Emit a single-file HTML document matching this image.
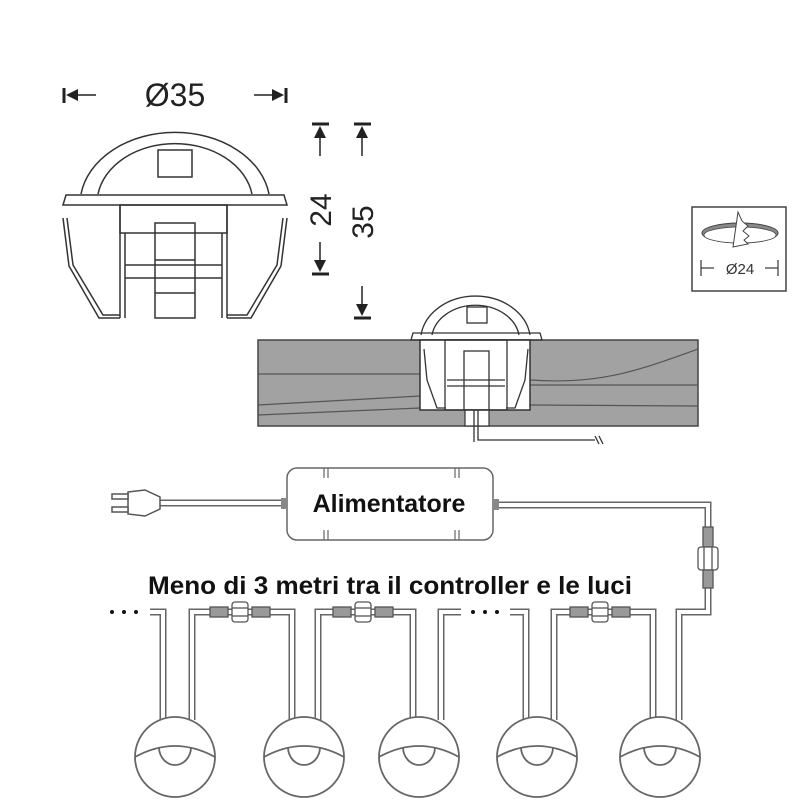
<!DOCTYPE html>
<html><head><meta charset="utf-8"><style>
html,body{margin:0;padding:0;background:#fff;}
svg{display:block;}
text{font-family:"Liberation Sans",sans-serif;}
</style></head><body>
<svg width="800" height="800" viewBox="0 0 800 800" xmlns="http://www.w3.org/2000/svg">
<!-- Top-left dims -->
<g stroke="#222" fill="#222">
<line x1="64" y1="88" x2="64" y2="103" stroke-width="3"/>
<polygon points="66,95 78,89 78,101" stroke="none"/>
<line x1="78" y1="95" x2="96" y2="95" stroke-width="1.5"/>
<line x1="286" y1="88" x2="286" y2="103" stroke-width="3"/>
<polygon points="284,95 272,89 272,101" stroke="none"/>
<line x1="254" y1="95" x2="272" y2="95" stroke-width="1.5"/>
</g>
<text x="175" y="106" font-size="32" text-anchor="middle" fill="#222">Ø35</text>
<!-- vertical dims -->
<g stroke="#222" fill="#222">
<line x1="312" y1="124" x2="329" y2="124" stroke-width="3"/>
<polygon points="320,126 314,138 326,138" stroke="none"/>
<line x1="320" y1="138" x2="320" y2="156" stroke-width="1.5"/>
<line x1="312" y1="274" x2="329" y2="274" stroke-width="3"/>
<polygon points="320,272 314,260 326,260" stroke="none"/>
<line x1="320" y1="242" x2="320" y2="260" stroke-width="1.5"/>
<line x1="354" y1="124" x2="371" y2="124" stroke-width="3"/>
<polygon points="362,126 356,138 368,138" stroke="none"/>
<line x1="362" y1="138" x2="362" y2="156" stroke-width="1.5"/>
<line x1="354" y1="318" x2="371" y2="318" stroke-width="3"/>
<polygon points="362,316 356,304 368,304" stroke="none"/>
<line x1="362" y1="286" x2="362" y2="304" stroke-width="1.5"/>
</g>
<text transform="translate(331,210) rotate(-90)" font-size="30" text-anchor="middle" fill="#222">24</text>
<text transform="translate(373,222) rotate(-90)" font-size="30" text-anchor="middle" fill="#222">35</text>
<!-- big lamp side view -->
<g fill="none" stroke="#333" stroke-width="1.5">
<path d="M81,194 A95,72 0 0 1 269,194"/>
<path d="M98,194 A78,60 0 0 1 252,194"/>
<rect x="158" y="150" width="34" height="27"/>
<path d="M66,195 L284,195 L287,205 L63,205 Z"/>
<rect x="120" y="205" width="107" height="28"/>
<line x1="120" y1="205" x2="120" y2="318"/><line x1="227" y1="205" x2="227" y2="318"/>
<line x1="125" y1="233" x2="125" y2="318"/><line x1="222" y1="233" x2="222" y2="318"/>
<rect x="155" y="223" width="40" height="95"/>
<line x1="155" y1="260" x2="195" y2="260"/><line x1="155" y1="293" x2="195" y2="293"/>
<line x1="125" y1="265" x2="222" y2="265"/><line x1="125" y1="278" x2="222" y2="278"/>
<path d="M63,218 L69,266 L99,318 L120,318"/>
<path d="M67,218 L73,265 L103,315 L120,315"/>
<path d="M287,218 L281,266 L251,318 L227,318"/>
<path d="M283,218 L277,265 L247,315 L227,315"/>
</g>
<!-- wood -->
<rect x="258" y="340" width="440" height="86" fill="#a2a2a2" stroke="#444" stroke-width="1.5"/>
<g fill="none" stroke="#555" stroke-width="1.2">
<path d="M258,374 L420,374"/><path d="M258,405 L420,396"/><path d="M258,415 L420,408"/>
<path d="M530,380 C600,385 640,370 698,349"/><path d="M530,385 L698,385"/><path d="M530,405 L698,406"/>
</g>
<rect x="420" y="340" width="110" height="70" fill="#fff" stroke="#333" stroke-width="1.5"/>
<rect x="465" y="410" width="24" height="16" fill="#fff" stroke="#333" stroke-width="1.2"/>
<g fill="none" stroke="#333" stroke-width="1.3">
<path d="M421,335 A55,45 0 0 1 530,335"/>
<path d="M432,335 A44,35 0 0 1 519,335"/>
<rect x="467" y="307" width="20" height="16"/>
<path d="M413,333 L540,333 L542,340 L411,340 Z"/>
<rect x="445" y="340" width="62" height="70"/>
<rect x="464" y="351" width="25" height="59"/>
<line x1="447" y1="380" x2="505" y2="380"/><line x1="447" y1="386" x2="505" y2="386"/>
<path d="M424,349 L427,380 L437,408 L446,408"/><path d="M528,349 L525,380 L515,408 L506,408"/>
<path d="M474,410 L474,442"/><path d="M478,410 L478,440 L595,440"/>
<path d="M595,436 L599,444 M599,436 L603,444"/>
</g>
<!-- small box -->
<rect x="692" y="207" width="94" height="84" fill="#fff" stroke="#444" stroke-width="1.5"/>
<ellipse cx="740" cy="233" rx="38" ry="10" fill="#888" stroke="#444"/>
<ellipse cx="740" cy="235" rx="36" ry="8" fill="#fff" stroke="#444" stroke-width="0.8"/>
<path d="M738,212 L733,247 L748,244 L744,240 L749,236 L743,231 L748,226 L742,221 Z" fill="#fff" stroke="#444"/>
<g stroke="#444" stroke-width="1.3"><line x1="701" y1="260" x2="701" y2="276"/><line x1="701" y1="268" x2="714" y2="268"/>
<line x1="778" y1="260" x2="778" y2="276"/><line x1="765" y1="268" x2="778" y2="268"/></g>
<text x="740" y="274" font-size="15" text-anchor="middle" fill="#333">Ø24</text>
<!-- cables (double lines) -->
<g fill="none" stroke-linejoin="miter">
<g stroke="#666" stroke-width="7">
<path d="M160,503 L287,503"/>
<path d="M493,505 L708,505 L708,612 L679,612 L679,720"/>
<path d="M150,612 L163,612 L163,720"/>
<path d="M192,720 L192,612 L292,612 L292,720"/>
<path d="M318,720 L318,612 L413,612 L413,720"/>
<path d="M441,720 L441,612 L461,612"/>
<path d="M510,612 L526,612 L526,720"/>
<path d="M554,720 L554,612 L653,612 L653,720"/>
</g>
<g stroke="#fff" stroke-width="4">
<path d="M160,503 L287,503"/>
<path d="M493,505 L708,505 L708,612 L679,612 L679,720"/>
<path d="M150,612 L163,612 L163,720"/>
<path d="M192,720 L192,612 L292,612 L292,720"/>
<path d="M318,720 L318,612 L413,612 L413,720"/>
<path d="M441,720 L441,612 L461,612"/>
<path d="M510,612 L526,612 L526,720"/>
<path d="M554,720 L554,612 L653,612 L653,720"/>
</g>
</g>
<!-- plug -->
<g fill="#fff" stroke="#555" stroke-width="1.5">
<path d="M128,492 L145,490 L160,497 L160,509 L145,516 L128,514 Z"/>
<rect x="112" y="494" width="16" height="5"/><rect x="112" y="507" width="16" height="5"/>
</g>
<!-- power supply -->
<rect x="287" y="468" width="206" height="72" rx="10" fill="#fff" stroke="#666" stroke-width="1.5"/>
<g stroke="#666" stroke-width="1.2"><line x1="324" y1="468" x2="324" y2="478"/><line x1="328" y1="468" x2="328" y2="478"/>
<line x1="455" y1="468" x2="455" y2="478"/><line x1="459" y1="468" x2="459" y2="478"/>
<line x1="324" y1="530" x2="324" y2="540"/><line x1="328" y1="530" x2="328" y2="540"/>
<line x1="455" y1="530" x2="455" y2="540"/><line x1="459" y1="530" x2="459" y2="540"/></g>
<rect x="281" y="498" width="6" height="11" fill="#888"/><rect x="493" y="499" width="6" height="11" fill="#888"/>
<text x="389" y="512" font-size="25" font-weight="bold" text-anchor="middle" fill="#111">Alimentatore</text>
<!-- vertical connector -->
<g fill="#fff" stroke="#555" stroke-width="1.3">
<rect x="703" y="527" width="10" height="20" fill="#999"/>
<rect x="698" y="547" width="20" height="23" rx="3"/>
<line x1="704" y1="547" x2="704" y2="570"/><line x1="712" y1="547" x2="712" y2="570"/>
<rect x="703" y="570" width="10" height="18" fill="#999"/>
</g>
<!-- horizontal connectors -->
<g fill="#fff" stroke="#555" stroke-width="1.3">
<g transform="translate(240,612)">
<rect x="-30" y="-5" width="18" height="10" fill="#999"/><rect x="-8" y="-10" width="16" height="20" rx="3"/>
<line x1="-8" y1="-4" x2="8" y2="-4"/><line x1="-8" y1="4" x2="8" y2="4"/>
<rect x="12" y="-5" width="18" height="10" fill="#999"/></g>
<g transform="translate(363,612)">
<rect x="-30" y="-5" width="18" height="10" fill="#999"/><rect x="-8" y="-10" width="16" height="20" rx="3"/>
<line x1="-8" y1="-4" x2="8" y2="-4"/><line x1="-8" y1="4" x2="8" y2="4"/>
<rect x="12" y="-5" width="18" height="10" fill="#999"/></g>
<g transform="translate(600,612)">
<rect x="-30" y="-5" width="18" height="10" fill="#999"/><rect x="-8" y="-10" width="16" height="20" rx="3"/>
<line x1="-8" y1="-4" x2="8" y2="-4"/><line x1="-8" y1="4" x2="8" y2="4"/>
<rect x="12" y="-5" width="18" height="10" fill="#999"/></g>
</g>
<!-- dots -->
<g fill="#111"><circle cx="112" cy="612" r="2"/><circle cx="124" cy="612" r="2"/><circle cx="136" cy="612" r="2"/>
<circle cx="473" cy="612" r="2"/><circle cx="485" cy="612" r="2"/><circle cx="497" cy="612" r="2"/></g>
<text x="390" y="594" font-size="25" font-weight="bold" text-anchor="middle" fill="#111" textLength="484" lengthAdjust="spacingAndGlyphs">Meno di 3 metri tra il controller e le luci</text>
<!-- lamps -->
<g fill="#fff" stroke="#666" stroke-width="1.8">
<g transform="translate(175,757)"><circle r="40"/><path d="M-40,0 Q0,-22 40,0" fill="none"/><path d="M-16,-10 A16,18 0 0 0 16,-10" fill="none"/></g>
<g transform="translate(304,757)"><circle r="40"/><path d="M-40,0 Q0,-22 40,0" fill="none"/><path d="M-16,-10 A16,18 0 0 0 16,-10" fill="none"/></g>
<g transform="translate(419,757)"><circle r="40"/><path d="M-40,0 Q0,-22 40,0" fill="none"/><path d="M-16,-10 A16,18 0 0 0 16,-10" fill="none"/></g>
<g transform="translate(537,757)"><circle r="40"/><path d="M-40,0 Q0,-22 40,0" fill="none"/><path d="M-16,-10 A16,18 0 0 0 16,-10" fill="none"/></g>
<g transform="translate(660,757)"><circle r="40"/><path d="M-40,0 Q0,-22 40,0" fill="none"/><path d="M-16,-10 A16,18 0 0 0 16,-10" fill="none"/></g>
</g>
</svg>
</body></html>
